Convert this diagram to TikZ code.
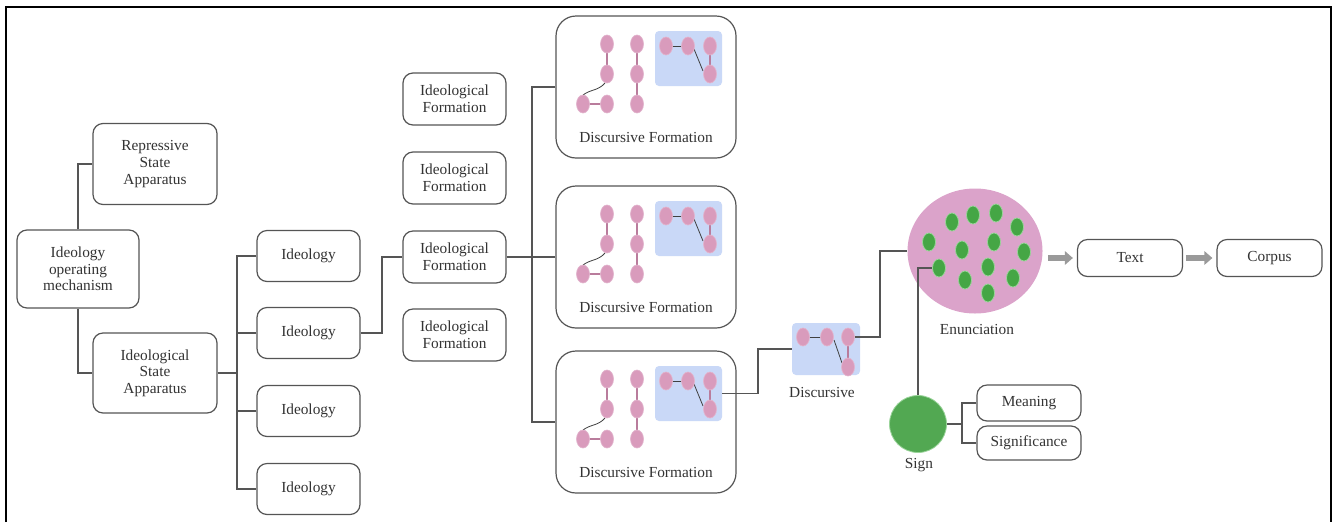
\documentclass[tikz,border=0pt]{standalone}
\usepackage{fontspec}
\setmainfont{Liberation Serif}
\usetikzlibrary{shapes.geometric,arrows.meta,calc}
\definecolor{linec}{HTML}{555555}
\definecolor{txtc}{HTML}{333333}
\definecolor{pinkE}{HTML}{D99BBC}
\definecolor{pinkL}{HTML}{B97C9C}
\definecolor{enunc}{HTML}{DBA3CA}
\definecolor{blueR}{HTML}{C9D8F7}
\definecolor{greenD}{HTML}{45A645}
\definecolor{greenL}{HTML}{9AD49A}
\definecolor{signc}{HTML}{52A852}
\definecolor{arrowc}{HTML}{9A9A9A}
\newcommand\dfinner[1]{%
 \begin{scope}[shift={(#1.center)}]
  \node[bluerect] (#1b) at (42.5,-28.5) {};
  \draw[pinkline] (-39,-43) -- (-39,-13);
  \draw[pinkline] (-63,17) -- (-39,17);
  \draw[pinkline] (-9,-43) -- (-9,17);
  \draw[darkline] (20,-41) -- (42,-41);
  \draw[pinkline] (64,-41) -- (64,-13);
  \draw[darkline] (48,-38) -- (57,-16);
  \draw[darkline] (-63,8) .. controls (-55,2) and (-48,4) .. (-41,-4);
  \foreach \p [count=\i] in {(-39,-43),(-39,-13),(-39,17),(-63,17),(-9,-43),(-9,-13),(-9,17),(20,-41),(42,-41),(64,-41),(64,-13)}
    \node[pinkdot] (#1p\i) at \p {};
  \node (#1l) at (0,50) {Discursive Formation};
 \end{scope}}
\begin{document}
\begin{tikzpicture}[x=0.75pt,y=-0.75pt,
 every node/.style={text=txtc, font=\rmfamily\fontsize{11.5}{12.5}\selectfont},
 box/.style={draw=linec, line width=0.9pt, rounded corners=7.5pt, align=center, inner sep=0pt, fill=white},
 dfbox/.style={box, rounded corners=15pt, minimum width=135pt, minimum height=106.5pt},
 idbox/.style={box, minimum width=77.25pt, minimum height=38.25pt},
 ifbox/.style={box, minimum width=77.25pt, minimum height=39pt},
 pinkdot/.style={ellipse, fill=pinkE, draw=pinkE!75!white, line width=0.5pt, minimum width=9.75pt, minimum height=13.5pt, inner sep=0pt},
 greendot/.style={ellipse, fill=greenD, draw=greenL, line width=0.6pt, minimum width=9.75pt, minimum height=13.5pt, inner sep=0pt},
 bluerect/.style={fill=blueR, rounded corners=3pt, minimum width=50.25pt, minimum height=41.25pt, inner sep=0pt},
 pinkline/.style={draw=pinkL, line width=1pt},
 darkline/.style={draw=black!75, line width=0.6pt},
 conn/.style={draw=linec, line width=0.8pt},
 bigarrow/.style={draw=arrowc, line width=4pt, -{Triangle[length=6pt,width=10pt]}}]
\useasboundingbox (0,0) rectangle (1333,522);
\draw[line width=1.5pt] (6,522) -- (6,7) -- (1331,7) -- (1331,522);

% left part
\node[box, minimum width=91.5pt, minimum height=58.5pt] (iom) at (78,269) {Ideology\\operating\\mechanism};
\node[box, minimum width=93pt, minimum height=60.75pt] (rsa) at (155,164) {Repressive\\State\\Apparatus};
\node[box, minimum width=93pt, minimum height=60pt] (isa) at (155,373) {Ideological\\State\\Apparatus};
\node[idbox] (id1) at (308.5,256) {Ideology};
\node[idbox] (id2) at (308.5,333) {Ideology};
\node[idbox] (id3) at (308.5,411) {Ideology};
\node[idbox] (id4) at (308.5,489) {Ideology};
\node[ifbox] (if1) at (454.5,99) {Ideological\\Formation};
\node[ifbox] (if2) at (454.5,178) {Ideological\\Formation};
\node[ifbox] (if3) at (454.5,257) {Ideological\\Formation};
\node[ifbox] (if4) at (454.5,335) {Ideological\\Formation};
\node[dfbox] (df1) at (646,87) {};
\node[dfbox] (df2) at (646,257) {};
\node[dfbox] (df3) at (646,422) {};
\dfinner{df1}
\dfinner{df2}
\dfinner{df3}

\coordinate (bA) at (237,0);
\coordinate (bB) at (382,0);
\coordinate (bC) at (532,0);
\coordinate (bD) at (758,0);
\coordinate (bE) at (880,0);
\coordinate (bF) at (962,0);

\draw[conn] (iom.north) |- (rsa.west);
\draw[conn] (iom.south) |- (isa.west);
\draw[conn] (isa.east) -- (isa.east -| bA);
\draw[conn] (id1.west) -- (id1.west -| bA) -- (id4.west -| bA) -- (id4.west);
\draw[conn] (id2.west) -- (id2.west -| bA);
\draw[conn] (id3.west) -- (id3.west -| bA);
\draw[conn] (id2.east) -- (id2.east -| bB) |- (if3.west);
\draw[conn] (if3.east) -- (df2.west);
\draw[conn] (df1.west) -- (df1.west -| bC) -- (df3.west -| bC) -- (df3.west);

% discursive
\node[bluerect, minimum width=51pt, minimum height=39pt] (disc) at (826,349) {};
\draw[darkline] (803,337) -- (827,337);
\draw[darkline] (834,340) -- (842,363);
\draw[pinkline] (848,337) -- (848,367);
\node[pinkdot] (d1) at (803,337) {};
\node[pinkdot] (d2) at (827,337) {};
\node[pinkdot] (d3) at (848,337) {};
\node[pinkdot] (d4) at (848,367) {};
\node (discl) at (822,392) {Discursive};
\draw[conn] (df3b.east) -- (df3b.east -| bD) |- (disc.west);

% enunciation
\node[ellipse, fill=enunc, minimum width=101.25pt, minimum height=93.75pt, inner sep=0pt] (enun) at (975,251) {};
\foreach \p [count=\i] in {(952,222),(973,215),(996,213),(1017,227),(929,242),(962,250),(994,242),(1024,252),(939,268),(988,267),(965,280),(1013,278),(988,293)}
  \node[greendot] (g\i) at \p {};
\node (enunl) at (977,329) {Enunciation};
\draw[conn] (d3.east) -- (d3.east -| bE) |- (enun.west);

% sign
\node[circle, fill=signc, draw=greenL, line width=0.6pt, minimum size=42.75pt, inner sep=0pt] (sign) at (918,424) {};
\node (signl) at (919,465) {Sign};
\node[box, minimum width=78pt, minimum height=27pt] (mean) at (1029,403) {Meaning};
\node[box, minimum width=78pt, minimum height=25.5pt] (sigf) at (1029,443) {Significance};
\draw[conn] (sign.north) |- (g9.west);
\draw[conn] (sign.east) -- (sign.east -| bF);
\draw[conn] (mean.west) -- (mean.west -| bF) -- (sigf.west -| bF) -- (sigf.west);

% text, corpus
\node[box, minimum width=78.75pt, minimum height=27.75pt] (text) at (1130,258) {Text};
\node[box, minimum width=78.75pt, minimum height=27.75pt] (corpus) at (1269.5,258) {Corpus};
\draw[bigarrow, shorten <=4pt, shorten >=3pt] (enun.east |- text.west) -- (text.west);
\draw[bigarrow, shorten <=2pt, shorten >=3pt] (text.east) -- (corpus.west);
\end{tikzpicture}
\end{document}
